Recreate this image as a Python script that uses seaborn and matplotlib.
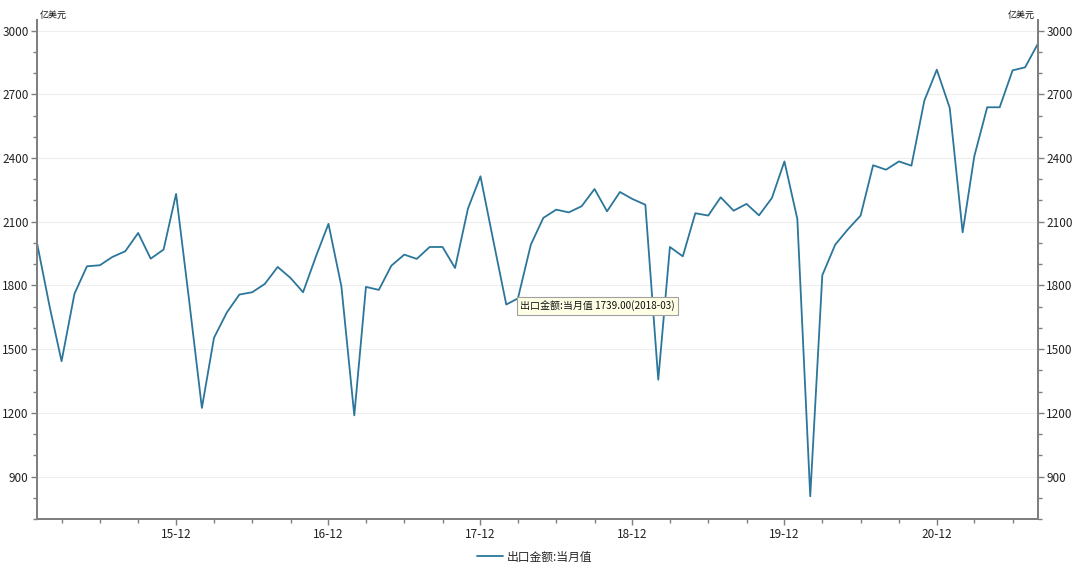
import pandas as pd
import numpy as np
import seaborn as sns
import matplotlib.pyplot as plt
import matplotlib.dates as mdates
from matplotlib.ticker import MultipleLocator

# monthly exports, 2015-01 .. 2021-08 (亿美元)
months = pd.date_range("2015-01-01", "2021-08-01", freq="MS")
exports = [
    2000, 1694, 1443, 1761, 1890, 1895, 1934, 1961, 2047, 1926, 1969, 2231,   # 2015
    1735, 1223, 1553, 1673, 1757, 1768, 1807, 1887, 1835, 1768, 1937, 2090,   # 2016
    1796, 1188, 1793, 1779, 1893, 1945, 1925, 1981, 1981, 1882, 2162, 2314,   # 2017
    2010, 1710, 1739, 1992, 2118, 2157, 2144, 2173, 2254, 2149, 2240, 2207,   # 2018
    2180, 1356, 1981, 1937, 2140, 2129, 2215, 2152, 2184, 2130, 2212, 2384,   # 2019
    2113, 807, 1848, 1992, 2063, 2129, 2366, 2345, 2384, 2364, 2670, 2816,    # 2020
    2636, 2050, 2408, 2639, 2639, 2813, 2827, 2939,                           # 2021
]
series_name = "出口金额:当月值"
unit = "亿美元"
y_ticks = [900, 1200, 1500, 1800, 2100, 2400, 2700, 3000]
tip_month = "2018-03"
tip_value = 1739.00

df = pd.DataFrame({"month": months, "value": exports})

sns.set_theme(style="white")
plt.rcParams['font.family'] = ['Noto Sans CJK SC', 'DejaVu Sans']

line_color = "#2b769a"
spine_color = "#7f7f7f"

fig, ax = plt.subplots(figsize=(10.8, 5.66), dpi=100)
fig.subplots_adjust(left=37/1080, right=1038/1080, top=1-20/566, bottom=1-519/566)

sns.lineplot(data=df, x="month", y="value", ax=ax, color=line_color,
             linewidth=1.3, label=series_name)

ax.set_xlim(months[0], months[-1])
ax.set_ylim(700, 3050)
ax.set_xlabel("")
ax.set_ylabel("")

# x axis: december labelled, quarterly minor ticks
ax.xaxis.set_major_locator(mdates.MonthLocator(bymonth=[12]))
ax.xaxis.set_major_formatter(mdates.DateFormatter("%y-%m"))
ax.xaxis.set_minor_locator(mdates.MonthLocator(bymonth=[3, 6, 9]))

ax.set_yticks(y_ticks)
ax.yaxis.set_minor_locator(MultipleLocator(100))
ax.grid(axis="y", color="#eeeeee", linewidth=0.8)

ax2 = ax.twinx()
ax2.set_ylim(ax.get_ylim())
ax2.set_yticks(y_ticks)
ax2.yaxis.set_minor_locator(MultipleLocator(100))
ax2.grid(False)

for a in (ax, ax2):
    for side in a.spines:
        a.spines[side].set_color(spine_color)
        a.spines[side].set_linewidth(1.4)
    a.spines["top"].set_visible(False)
    a.tick_params(axis="both", which="major", length=4.5, width=1, color=spine_color,
                  labelsize=8.5, labelcolor="#222222", direction="out", pad=1.5)
    a.tick_params(axis="both", which="minor", length=3, width=1, color=spine_color,
                  direction="out")
    a.tick_params(axis="y", which="both", left=(a is ax), right=(a is ax2))
    a.tick_params(axis="x", which="both", bottom=(a is ax))
ax.tick_params(axis="x", which="major", pad=2)

ax.text(0.003, 1.0, unit, transform=ax.transAxes, ha="left", va="bottom",
        fontsize=6.5, color="#111111")
ax.text(0.997, 1.0, unit, transform=ax.transAxes, ha="right", va="bottom",
        fontsize=6.5, color="#111111")

# hover tooltip
ax.annotate(f"{series_name} {tip_value:.2f}({tip_month})",
            xy=(pd.Timestamp(tip_month + "-01"), tip_value),
            xytext=(1.5, -1.5), textcoords="offset points", ha="left", va="top",
            fontsize=7.2, color="#111111",
            bbox=dict(boxstyle="square,pad=0.35", fc="#ffffe6", ec="#a0a0a0", lw=0.8))

leg = ax.legend(loc="center", bbox_to_anchor=(0.497, -0.076), frameon=False,
                fontsize=8.5, handlelength=2.2, handletextpad=0.3)

fig.savefig("out.png", dpi=100)
